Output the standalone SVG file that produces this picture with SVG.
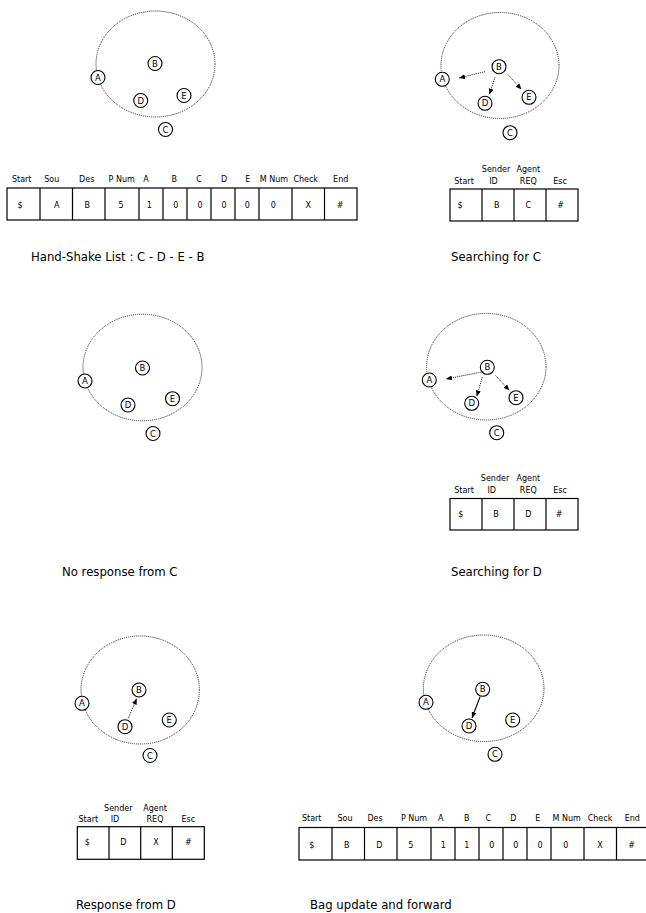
<svg xmlns="http://www.w3.org/2000/svg" width="646" height="913" viewBox="0 0 646 913">
<defs>
<style>
.bg{fill:#fff}
.cloud{fill:none;stroke:#222;stroke-width:1;stroke-dasharray:1,1}
.nd circle{fill:#fff;stroke:#000;stroke-width:1.1}
.nd text{font-family:"DejaVu Sans",sans-serif;font-size:8.5px;text-anchor:middle;fill:#000}
.dot{fill:none;stroke:#111;stroke-width:1;stroke-dasharray:1,1}
.sol{fill:none;stroke:#000;stroke-width:1.1}
.tb{fill:none;stroke:#000;stroke-width:1.2}
.t{font-family:"DejaVu Sans",sans-serif;font-size:8px;text-anchor:middle;fill:#000}
.cap{font-family:"DejaVu Sans",sans-serif;font-size:11.7px;fill:#000}
</style>
<marker id="ah" viewBox="0 0 6 5" refX="6" refY="2.5" markerWidth="6" markerHeight="5" markerUnits="userSpaceOnUse" orient="auto">
<path d="M0,0 L6,2.5 L0,5 z" fill="#000"/>
</marker>
</defs>
<rect class="bg" x="0" y="0" width="646" height="913"/>

<!-- Panel 1 -->
<g id="panel1">
<ellipse class="cloud" cx="155.5" cy="64" rx="59.5" ry="53"/>
<g id="p1-A" class="nd"><circle cx="98" cy="77.5" r="7"/><text x="98" y="80.5">A</text></g>
<g id="p1-B" class="nd"><circle cx="155" cy="63.5" r="7"/><text x="155" y="66.5">B</text></g>
<g id="p1-D" class="nd"><circle cx="140.7" cy="100.5" r="7"/><text x="140.7" y="103.5">D</text></g>
<g id="p1-E" class="nd"><circle cx="184" cy="95.5" r="7"/><text x="184" y="98.5">E</text></g>
<g id="p1-C" class="nd"><circle cx="165.5" cy="129.5" r="7"/><text x="165.5" y="132.5">C</text></g>
</g>

<!-- Table 1 -->
<g id="table1">
<rect class="tb" x="7" y="188" width="350" height="32"/>
<path class="tb" d="M40,188V220M72.5,188V220M105,188V220M139,188V220M163,188V220M187,188V220M211,188V220M235,188V220M259,188V220M292,188V220M324.5,188V220"/>
<text class="t" x="21.7" y="182">Start</text><text class="t" x="51.7" y="182">Sou</text><text class="t" x="86.7" y="182">Des</text><text class="t" x="121.7" y="182">P Num</text><text class="t" x="146" y="182">A</text><text class="t" x="174.3" y="182">B</text><text class="t" x="199" y="182">C</text><text class="t" x="224" y="182">D</text><text class="t" x="247.7" y="182">E</text><text class="t" x="274" y="182">M Num</text><text class="t" x="305.7" y="182">Check</text><text class="t" x="340.7" y="182">End</text>
<text class="t" x="20" y="207.5">$</text><text class="t" x="56.7" y="207.5">A</text><text class="t" x="87.3" y="207.5">B</text><text class="t" x="121" y="207.5">5</text><text class="t" x="149.3" y="207.5">1</text><text class="t" x="175.7" y="207.5">0</text><text class="t" x="200" y="207.5">0</text><text class="t" x="224" y="207.5">0</text><text class="t" x="247.3" y="207.5">0</text><text class="t" x="273.3" y="207.5">0</text><text class="t" x="308.3" y="207.5">X</text><text class="t" x="340" y="207.5">#</text>
</g>
<text class="cap" x="31" y="261">Hand-Shake List : C - D - E - B</text>

<!-- Panel 2 -->
<g id="panel2">
<ellipse class="cloud" cx="500" cy="65.5" rx="59" ry="53"/>
<g id="p2-A" class="nd"><circle cx="442.3" cy="79.3" r="7"/><text x="442.3" y="82.3">A</text></g>
<g id="p2-B" class="nd"><circle cx="499" cy="66.7" r="7"/><text x="499" y="69.7">B</text></g>
<g id="p2-D" class="nd"><circle cx="485" cy="103.3" r="7"/><text x="485" y="106.3">D</text></g>
<g id="p2-E" class="nd"><circle cx="529" cy="97.3" r="7"/><text x="529" y="100.3">E</text></g>
<g id="p2-C" class="nd"><circle cx="510" cy="132.7" r="7"/><text x="510" y="135.7">C</text></g>
</g>
<g id="table2">
<rect class="tb" x="450" y="189" width="128" height="32"/>
<path class="tb" d="M482,189V221M514,189V221M546,189V221"/>
<text class="t" x="496" y="171.5">Sender</text><text class="t" x="528.3" y="171.5">Agent</text>
<text class="t" x="464" y="183.5">Start</text><text class="t" x="493.5" y="183.5">ID</text><text class="t" x="528.3" y="183.5">REQ</text><text class="t" x="560" y="183.5">Esc</text>
<text class="t" x="460" y="208">$</text><text class="t" x="496.7" y="208">B</text><text class="t" x="528.3" y="208">C</text><text class="t" x="560.7" y="208">#</text>
</g>
<text class="cap" x="451" y="261">Searching for C</text>

<!-- Panel 3 -->
<g id="panel3">
<ellipse class="cloud" cx="142.5" cy="367.5" rx="59.5" ry="53.3"/>
<g id="p3-A" class="nd"><circle cx="85" cy="381" r="7"/><text x="85" y="384">A</text></g>
<g id="p3-B" class="nd"><circle cx="142.5" cy="368" r="7"/><text x="142.5" y="371">B</text></g>
<g id="p3-D" class="nd"><circle cx="128" cy="405" r="7"/><text x="128" y="408">D</text></g>
<g id="p3-E" class="nd"><circle cx="172.5" cy="398.7" r="7"/><text x="172.5" y="401.7">E</text></g>
<g id="p3-C" class="nd"><circle cx="153" cy="433.5" r="7"/><text x="153" y="436.5">C</text></g>
</g>
<text class="cap" x="62" y="576">No response from C</text>

<!-- Panel 4 -->
<g id="panel4">
<ellipse class="cloud" cx="486.3" cy="366.7" rx="59.7" ry="53.3"/>
<g id="p4-A" class="nd"><circle cx="429.3" cy="380" r="7"/><text x="429.3" y="383">A</text></g>
<g id="p4-B" class="nd"><circle cx="487.3" cy="367.3" r="7"/><text x="487.3" y="370.3">B</text></g>
<g id="p4-D" class="nd"><circle cx="471.7" cy="403.3" r="7"/><text x="471.7" y="406.3">D</text></g>
<g id="p4-E" class="nd"><circle cx="516" cy="397.7" r="7"/><text x="516" y="400.7">E</text></g>
<g id="p4-C" class="nd"><circle cx="496.7" cy="432.7" r="7"/><text x="496.7" y="435.7">C</text></g>
</g>
<g id="table4">
<rect class="tb" x="450" y="498.5" width="128" height="31.5"/>
<path class="tb" d="M482,498.5V530M514,498.5V530M546,498.5V530"/>
<text class="t" x="495" y="480.5">Sender</text><text class="t" x="528.3" y="480.5">Agent</text>
<text class="t" x="464" y="492.5">Start</text><text class="t" x="491.7" y="492.5">ID</text><text class="t" x="528.3" y="492.5">REQ</text><text class="t" x="560" y="492.5">Esc</text>
<text class="t" x="460.7" y="517">$</text><text class="t" x="496" y="517">B</text><text class="t" x="528.3" y="517">D</text><text class="t" x="559" y="517">#</text>
</g>
<text class="cap" x="451" y="576">Searching for D</text>

<!-- Panel 5 -->
<g id="panel5">
<ellipse class="cloud" cx="140.2" cy="690" rx="59.2" ry="54"/>
<g id="p5-A" class="nd"><circle cx="82" cy="703.3" r="7"/><text x="82" y="706.3">A</text></g>
<g id="p5-B" class="nd"><circle cx="139" cy="690" r="7"/><text x="139" y="693">B</text></g>
<g id="p5-D" class="nd"><circle cx="125" cy="726.7" r="7"/><text x="125" y="729.7">D</text></g>
<g id="p5-E" class="nd"><circle cx="169.3" cy="720" r="7"/><text x="169.3" y="723">E</text></g>
<g id="p5-C" class="nd"><circle cx="150" cy="755.5" r="7"/><text x="150" y="758.5">C</text></g>
</g>
<g id="table5">
<rect class="tb" x="77.3" y="826.7" width="127" height="32.6"/>
<path class="tb" d="M109,826.7V859.3M140.7,826.7V859.3M172.3,826.7V859.3"/>
<text class="t" x="118.3" y="810.5">Sender</text><text class="t" x="155" y="810.5">Agent</text>
<text class="t" x="88.3" y="821.5">Start</text><text class="t" x="115" y="821.5">ID</text><text class="t" x="155" y="821.5">REQ</text><text class="t" x="188.3" y="821.5">Esc</text>
<text class="t" x="87.3" y="845">$</text><text class="t" x="123.3" y="845">D</text><text class="t" x="156" y="845">X</text><text class="t" x="188.3" y="845">#</text>
</g>
<text class="cap" x="76" y="909">Response from D</text>

<!-- Panel 6 -->
<g id="panel6">
<ellipse class="cloud" cx="483.7" cy="688.3" rx="60.3" ry="53.3"/>
<g id="p6-A" class="nd"><circle cx="426" cy="702.3" r="7"/><text x="426" y="705.3">A</text></g>
<g id="p6-B" class="nd"><circle cx="482.7" cy="689.3" r="7"/><text x="482.7" y="692.3">B</text></g>
<g id="p6-D" class="nd"><circle cx="469" cy="726" r="7"/><text x="469" y="729">D</text></g>
<g id="p6-E" class="nd"><circle cx="512.7" cy="720" r="7"/><text x="512.7" y="723">E</text></g>
<g id="p6-C" class="nd"><circle cx="495" cy="754.3" r="7"/><text x="495" y="757.3">C</text></g>
</g>
<g id="table6">
<rect class="tb" x="299" y="827.5" width="350" height="32.5"/>
<path class="tb" d="M332,827.5V860M364.5,827.5V860M397,827.5V860M431,827.5V860M455,827.5V860M479,827.5V860M503,827.5V860M527,827.5V860M551,827.5V860M584,827.5V860M616.5,827.5V860"/>
<text class="t" x="311.7" y="821">Start</text><text class="t" x="345" y="821">Sou</text><text class="t" x="375" y="821">Des</text><text class="t" x="414" y="821">P Num</text><text class="t" x="440.7" y="821">A</text><text class="t" x="466.7" y="821">B</text><text class="t" x="488.3" y="821">C</text><text class="t" x="513.3" y="821">D</text><text class="t" x="537.7" y="821">E</text><text class="t" x="566.7" y="821">M Num</text><text class="t" x="600" y="821">Check</text><text class="t" x="632.3" y="821">End</text>
<text class="t" x="311.7" y="848">$</text><text class="t" x="346.7" y="848">B</text><text class="t" x="379.3" y="848">D</text><text class="t" x="410.7" y="848">5</text><text class="t" x="443.3" y="848">1</text><text class="t" x="466.7" y="848">1</text><text class="t" x="491.7" y="848">0</text><text class="t" x="515.7" y="848">0</text><text class="t" x="540" y="848">0</text><text class="t" x="565.7" y="848">0</text><text class="t" x="600" y="848">X</text><text class="t" x="631.7" y="848">#</text>
</g>
<text class="cap" x="310" y="909">Bag update and forward</text>

<!-- Connectors -->
<g id="connectors">
<line class="dot" x1="485" y1="71.7" x2="459" y2="78" marker-end="url(#ah)"/>
<line class="dot" x1="495" y1="77.3" x2="489.3" y2="94.5" marker-end="url(#ah)"/>
<line class="dot" x1="508" y1="74.7" x2="521.5" y2="89.5" marker-end="url(#ah)"/>
<line class="dot" x1="483.3" y1="371.7" x2="446" y2="379" marker-end="url(#ah)"/>
<line class="dot" x1="482.3" y1="377.3" x2="476.7" y2="396.5" marker-end="url(#ah)"/>
<line class="dot" x1="495.7" y1="375.7" x2="509.5" y2="390.5" marker-end="url(#ah)"/>
<line class="dot" x1="128.3" y1="718.3" x2="136.7" y2="698.5" marker-end="url(#ah)"/>
<line class="sol" x1="480" y1="697" x2="472" y2="718" marker-end="url(#ah)"/>
</g>
</svg>
